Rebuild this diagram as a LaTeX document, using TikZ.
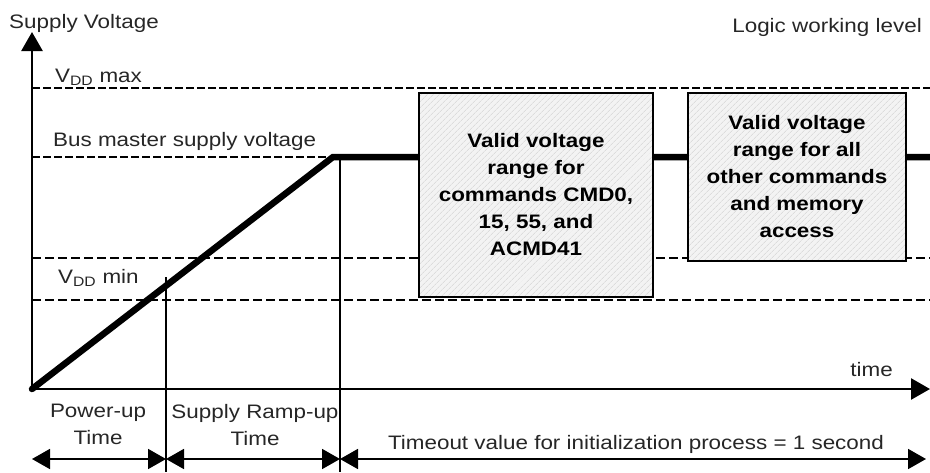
\documentclass[tikz,border=0pt]{standalone}
\usepackage{fontspec}
\setmainfont{Liberation Sans}[FakeStretch=1.15]
\usepackage{tikz}
\usetikzlibrary{positioning, arrows.meta, patterns.meta, calc}
\definecolor{ink}    {HTML}{000000}
\definecolor{boxfill}{HTML}{F3F3F3}
\definecolor{hatch}  {HTML}{D0D0D0}

\begin{document}
\begin{tikzpicture}[x=1pt, y=-1pt,
      lbl/.style ={font=\fontsize{19.5}{27}\selectfont, inner sep=0pt, text=ink!85},
      valid/.style={draw=ink, line width=2.6pt, align=center, inner sep=0pt,
                    font=\fontsize{19.5}{27}\selectfont\bfseries,
                    preaction={fill=boxfill},
                    pattern={Lines[angle=45, distance=4pt, line width=0.6pt]},
                    pattern color=hatch},
      axis/.style ={-{Triangle[length=19pt, width=21pt]}, line width=2.6pt, draw=ink},
      span/.style ={{Triangle[length=18pt, width=20pt]}-{Triangle[length=18pt, width=20pt]},
                    line width=1.8pt, draw=ink},
      lim/.style  ={dashed, dash pattern=on 8pt off 3pt, line width=2.2pt, draw=ink},
      win/.style  ={dashed, dash pattern=on 9pt off 4pt, line width=1.4pt, draw=ink},
      tickline/.style={line width=2.6pt, draw=ink},
      supply/.style={line width=6.5pt, draw=ink, line cap=round}]

    \useasboundingbox (0,0) rectangle (930,472);

    % axes
    \coordinate (O)  at (32,389);
    \coordinate (yT) at (32,32);
    \coordinate (xT) at (930,389);
    % voltage levels
    \coordinate (lvmax) at (0,88);
    \coordinate (lbus)  at (0,157);
    \coordinate (lhi)   at (0,258);
    \coordinate (lvmin) at (0,300);
    \coordinate (top)   at (333,157);
    % time marks
    \coordinate (t1top) at (166,277);
    \coordinate (t1bot) at (166,472);
    \coordinate (t2top) at (340,157);
    \coordinate (t2bot) at (340,472);
    \coordinate (a0) at (32,459);
    \coordinate (a1) at (166,459);
    \coordinate (a2) at (340,459);
    \coordinate (a3) at (926,459);

    \draw[lim] (O |- lvmax) -- (xT |- lvmax);
    \draw[lim] (O |- lbus)  -- (top);
    \draw[win] (O |- lhi)   -- (xT |- lhi);
    \draw[win] (O |- lvmin) -- (xT |- lvmin);

    \draw[supply] (O) -- (top) -- (xT |- top);

    \node[valid, minimum width=234, minimum height=204] (cmd0) at (536,195)
         {Valid voltage\\range for\\commands CMD0,\\15, 55, and\\ACMD41};
    \node[valid, minimum width=218, minimum height=168, line width=2pt] (other) at (797,177)
         {Valid voltage\\range for all\\other commands\\and memory\\access};

    \draw[axis] (O) -- (yT);
    \draw[axis] (O) -- (xT);
    \draw[tickline] (t1top) -- (t1bot);
    \draw[tickline] (t2top) -- (t2bot);

    \draw[span] (a0) -- (a1);
    \draw[span] (a1) -- (a2);
    \draw[span] (a2) -- (a3);

    \node[lbl, anchor=base west] (ylab)  at (9,28)    {Supply Voltage};
    \node[lbl, anchor=base east] (level) at (922,32)  {Logic working level};
    \node[lbl, anchor=base west] (vmax)  at (55,82)   {V\textsubscript{DD} max};
    \node[lbl, anchor=base west] (busv)  at (53,146)  {Bus master supply voltage};
    \node[lbl, anchor=base west] (vmin)  at (58,283)  {V\textsubscript{DD} min};
    \node[lbl, anchor=base east] (tlab)  at (893,376) {time};
    \node[lbl, anchor=north, align=center] (pup)  at (98,404)  {Power-up\\Time};
    \node[lbl, anchor=north, align=center] (ramp) at (255,404) {Supply Ramp-up\\Time};
    \node[lbl, anchor=base] (tout) at (636,449)
         {Timeout value for initialization process = 1 second};
  \end{tikzpicture}
\end{document}
